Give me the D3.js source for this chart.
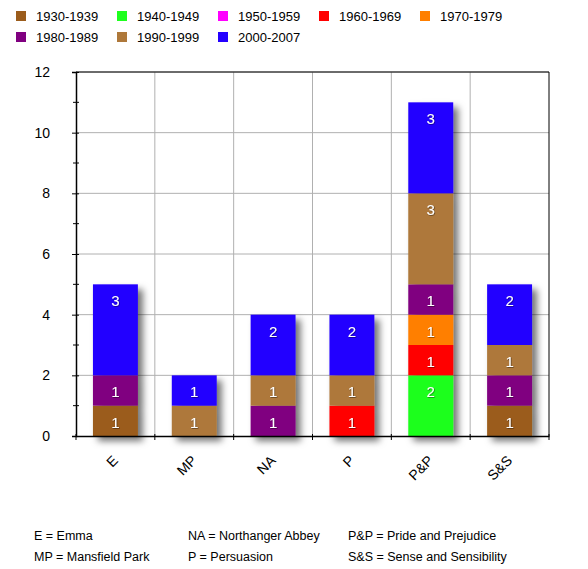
<!DOCTYPE html>
<html>
<head>
<meta charset="utf-8">
<script src="https://cdn.jsdelivr.net/npm/d3@7"></script>
<style>
  body { margin: 0; background: #fff; }
  text { font-family: "Liberation Sans", Arial, sans-serif; }
</style>
</head>
<body>
<div id="chart"></div>
<script>
// novels along the x axis
var novels = ["E", "MP", "NA", "P", "P&P", "S&S"];
var decades = ["1930-1939", "1940-1949", "1950-1959", "1960-1969", "1970-1979", "1980-1989", "1990-1999", "2000-2007"];
var decadeColors = ["#9b5c1c", "#1eff1e", "#ff00ff", "#ff0000", "#ff7f00", "#800080", "#ae783a", "#2400ff"];

// number of adaptations per decade, in novel order
var v1930 = [1, 0, 0, 0, 0, 1];
var v1940 = [0, 0, 0, 0, 2, 0];
var v1950 = [0, 0, 0, 0, 0, 0];
var v1960 = [0, 0, 0, 1, 1, 0];
var v1970 = [0, 0, 0, 0, 1, 0];
var v1980 = [1, 0, 1, 0, 1, 1];
var v1990 = [0, 1, 1, 1, 3, 1];
var v2000 = [3, 1, 2, 2, 3, 2];

var yTicks = [0, 2, 4, 6, 8, 10, 12];
var yMinorTicks = [1, 3, 5, 7, 9, 11];

var footnotes = [
    ["E = Emma", "MP = Mansfield Park"],
    ["NA = Northanger Abbey", "P = Persuasion"],
    ["P&P = Pride and Prejudice", "S&S = Sense and Sensibility"]
];

var series = [v1930, v1940, v1950, v1960, v1970, v1980, v1990, v2000];
var table = novels.map(function(n, i) {
    var row = { novel: n };
    decades.forEach(function(d, j) { row[d] = series[j][i]; });
    return row;
});

var margin = { top: 72, right: 39, bottom: 133, left: 76 };
var width = 588 - margin.left - margin.right,
    height = 569 - margin.top - margin.bottom;

var root = d3.select("#chart").append("svg")
    .attr("width", 588)
    .attr("height", 569);

var defs = root.append("defs");
var shadow = defs.append("filter").attr("id", "shadow")
    .attr("x", "-20%").attr("y", "-20%").attr("width", "160%").attr("height", "140%");
shadow.append("feDropShadow")
    .attr("dx", 5).attr("dy", 5).attr("stdDeviation", 3.5)
    .attr("flood-color", "#000").attr("flood-opacity", 0.55);
var tshadow = defs.append("filter").attr("id", "tshadow");
tshadow.append("feDropShadow")
    .attr("dx", 0.6).attr("dy", 0.6).attr("stdDeviation", 0.5)
    .attr("flood-color", "#000").attr("flood-opacity", 0.6);

var color = d3.scaleOrdinal().domain(decades).range(decadeColors);

// legend
var legend = root.append("g").attr("class", "legend");
var li = legend.selectAll("g").data(decades).enter().append("g")
    .attr("transform", function(d, i) {
        return "translate(" + (16 + (i % 5) * 101) + "," + (11 + Math.floor(i / 5) * 21) + ")";
    });
li.append("rect")
    .attr("width", 10).attr("height", 10)
    .attr("fill", function(d) { return color(d); });
li.append("text")
    .attr("x", 20).attr("y", 10)
    .style("font-size", "13px")
    .text(function(d) { return d; });

var svg = root.append("g")
    .attr("transform", "translate(" + margin.left + "," + margin.top + ")");

var x = d3.scaleBand()
    .domain(novels)
    .range([0, width])
    .paddingInner(0.43)
    .paddingOuter(0.215);

var y = d3.scaleLinear()
    .domain([0, 12])
    .range([height, 0]);

// grid
svg.append("g").selectAll("line").data(yTicks.slice(1)).enter().append("line")
    .attr("x1", 0).attr("x2", width)
    .attr("y1", function(d) { return y(d); })
    .attr("y2", function(d) { return y(d); })
    .attr("stroke", "#b0b0b0");
svg.append("g").selectAll("line").data(novels.slice(1)).enter().append("line")
    .attr("x1", function(d) { return x(d) - x.step() * x.paddingInner() / 2; })
    .attr("x2", function(d) { return x(d) - x.step() * x.paddingInner() / 2; })
    .attr("y1", 0).attr("y2", height)
    .attr("stroke", "#b0b0b0");

svg.append("line").attr("x1", 0).attr("x2", width).attr("y1", 0).attr("y2", 0)
    .attr("stroke", "#000");
svg.append("line").attr("x1", width).attr("x2", width).attr("y1", 0).attr("y2", height)
    .attr("stroke", "#000");

// stacked bars
var stack = d3.stack().keys(decades)(table);
var cols = svg.selectAll(".col").data(novels).enter().append("g")
    .attr("class", "col")
    .attr("filter", "url(#shadow)");

cols.each(function(n, i) {
    var g = d3.select(this);
    stack.forEach(function(layer) {
        var s = layer[i];
        if (s[1] - s[0] <= 0) return;
        g.append("rect")
            .attr("x", x(n))
            .attr("width", x.bandwidth())
            .attr("y", y(s[1]))
            .attr("height", y(s[0]) - y(s[1]))
            .attr("fill", color(layer.key));
    });
});

var labels = [];
stack.forEach(function(layer) {
    layer.forEach(function(s, i) {
        if (s[1] - s[0] > 0) labels.push({ novel: novels[i], top: s[1], v: s[1] - s[0] });
    });
});
svg.append("g").selectAll("text").data(labels).enter().append("text")
    .attr("x", function(d) { return x(d.novel) + x.bandwidth() / 2; })
    .attr("y", function(d) { return y(d.top) + 22; })
    .attr("text-anchor", "middle")
    .attr("fill", "#fff")
    .attr("filter", "url(#tshadow)")
    .style("font-size", "15px")
    .text(function(d) { return d.v; });

// axes
var yAxis = d3.axisLeft(y).tickValues(yTicks).tickSize(4).tickPadding(22);
var yg = svg.append("g").attr("class", "y-axis").call(yAxis);
yg.select(".domain").attr("stroke", "#000").attr("stroke-width", 1.5);
yg.selectAll(".tick line").attr("x2", -4).attr("x1", 3);
yg.selectAll("text").style("font-size", "14px").attr("fill", "#000");
yg.append("g").selectAll("line").data(yMinorTicks).enter().append("line")
    .attr("x1", -3).attr("x2", 3)
    .attr("y1", function(d) { return y(d); })
    .attr("y2", function(d) { return y(d); })
    .attr("stroke", "#000");

var xAxis = d3.axisBottom(x).tickSize(0).tickPadding(0);
var xg = svg.append("g").attr("class", "x-axis")
    .attr("transform", "translate(0," + height + ")")
    .call(xAxis);
xg.select(".domain").attr("stroke", "#000").attr("stroke-width", 1.5);
xg.selectAll(".tick text")
    .attr("text-anchor", "end")
    .attr("transform", "translate(0,22) rotate(-45)")
    .attr("dy", "0.35em")
    .attr("y", 0)
    .style("font-size", "14px")
    .attr("fill", "#000");
xg.append("g").selectAll("line").data(novels.concat(["end"])).enter().append("line")
    .attr("x1", function(d, i) { return i * x.step(); })
    .attr("x2", function(d, i) { return i * x.step(); })
    .attr("y1", -2).attr("y2", 4)
    .attr("stroke", "#000");

// key to abbreviations
var foot = root.append("g");
footnotes.forEach(function(col, c) {
    foot.selectAll(null).data(col).enter().append("text")
        .attr("x", [34, 188, 348][c])
        .attr("y", function(d, r) { return 540 + r * 21; })
        .style("font-size", "12.5px")
        .text(function(d) { return d; });
});
</script>
</body>
</html>
